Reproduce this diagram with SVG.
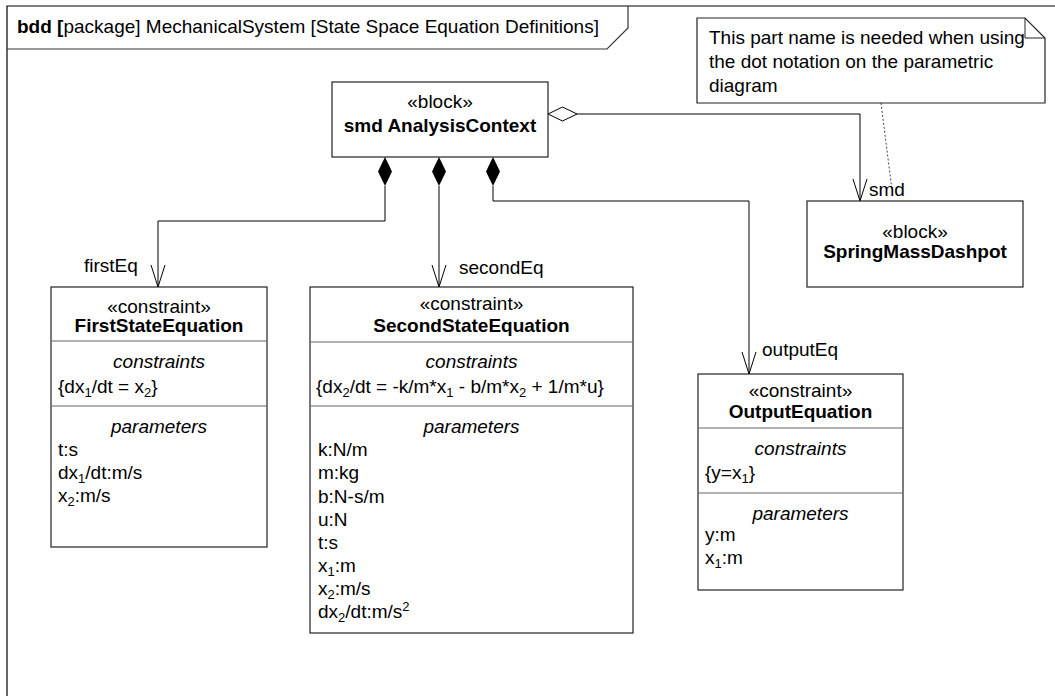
<svg xmlns="http://www.w3.org/2000/svg" width="1055" height="696" viewBox="0 0 1055 696">
  <style>
    text { font-family: "Liberation Sans", Arial, sans-serif; font-size: 19px; fill: #000; }
    .c { text-anchor: middle; }
    .b { font-weight: bold; }
    .i { font-style: italic; }
    .box { fill: #fff; stroke: #222; stroke-width: 1.2; }
    .div { stroke: #666; stroke-width: 1.2; fill: none; }
    .edge { fill: none; stroke: #000; stroke-width: 1; }
    .sub { font-size: 13px; }
  </style>
  <defs>
    <!-- open arrowhead pointing along the path direction -->
    <marker id="open" viewBox="0 0 24 16" markerWidth="24" markerHeight="16" refX="23" refY="8" orient="auto" markerUnits="userSpaceOnUse">
      <path d="M1,1 L23,8 L1,15" fill="none" stroke="#000" stroke-width="1"/>
    </marker>
  </defs>

  <rect width="1055" height="696" fill="#fff"/>

  <!-- diagram frame with its name tab -->
  <g id="frame">
    <path d="M7,700 V6 H1060" fill="none" stroke="#000" stroke-width="1.2"/>
    <path d="M7,49 H607 L628,28 V6" fill="none" stroke="#333" stroke-width="1.2"/>
    <text x="17" y="33"><tspan class="b">bdd [</tspan>package] MechanicalSystem [State Space Equation Definitions]</text>
  </g>

  <!-- connectors -->
  <g id="connectors">
    <!-- composite parts -->
    <path class="edge" d="M385,186 V221 H158 V287" marker-end="url(#open)"/>
    <path class="edge" d="M439,186 V287" marker-end="url(#open)"/>
    <path class="edge" d="M493,186 V201 H749 V374" marker-end="url(#open)"/>
    <path d="M385,157 L392,171.5 L385,186 L378,171.5 Z" fill="#000"/>
    <path d="M439,157 L446,171.5 L439,186 L432,171.5 Z" fill="#000"/>
    <path d="M493,157 L500,171.5 L493,186 L486,171.5 Z" fill="#000"/>
    <!-- shared part -->
    <path class="edge" d="M577,114 H860 V201" marker-end="url(#open)"/>
    <path d="M548,114 L562.5,107 L577,114 L562.5,121 Z" fill="#fff" stroke="#000" stroke-width="1"/>
    <!-- note anchor -->
    <path d="M881,103 L892,190" fill="none" stroke="#444" stroke-width="1" stroke-dasharray="2,2"/>
    <!-- role names -->
    <text x="84" y="272">firstEq</text>
    <text x="459" y="274">secondEq</text>
    <text x="762" y="356">outputEq</text>
    <text x="869" y="196">smd</text>
  </g>

  <g id="note">
    <path class="box" d="M697,18 H1025 L1045,38 V103 H697 Z"/>
    <path d="M1025,18 V38 H1045" fill="none" stroke="#222" stroke-width="1"/>
    <text x="709" y="44">This part name is needed when using</text>
    <text x="709" y="68">the dot notation on the parametric</text>
    <text x="709" y="92">diagram</text>
  </g>

  <g id="AnalysisContext">
    <rect class="box" x="332" y="82" width="216" height="75"/>
    <text class="c" x="440" y="108">«block»</text>
    <text class="c b" x="440" y="132">smd AnalysisContext</text>
  </g>

  <g id="SpringMassDashpot">
    <rect class="box" x="807" y="201" width="216" height="86"/>
    <text class="c" x="915" y="238">«block»</text>
    <text class="c b" x="915" y="258">SpringMassDashpot</text>
  </g>

  <g id="FirstStateEquation">
    <rect class="box" x="51" y="287" width="216" height="260"/>
    <path class="div" d="M51,341 H267 M51,406 H267"/>
    <text class="c" x="159" y="313">«constraint»</text>
    <text class="c b" x="159" y="332">FirstStateEquation</text>
    <text class="c i" x="159" y="368">constraints</text>
    <text x="58" y="393">{dx<tspan class="sub" dy="4">1</tspan><tspan dy="-4">/dt = x</tspan><tspan class="sub" dy="4">2</tspan><tspan dy="-4">}</tspan></text>
    <text class="c i" x="159" y="433">parameters</text>
    <text x="58" y="456">t:s</text>
    <text x="58" y="479">dx<tspan class="sub" dy="4">1</tspan><tspan dy="-4">/dt:m/s</tspan></text>
    <text x="58" y="502">x<tspan class="sub" dy="4">2</tspan><tspan dy="-4">:m/s</tspan></text>
  </g>

  <g id="SecondStateEquation">
    <rect class="box" x="310" y="287" width="323" height="346"/>
    <path class="div" d="M310,342 H633 M310,406 H633"/>
    <text class="c" x="471.5" y="310">«constraint»</text>
    <text class="c b" x="471.5" y="332">SecondStateEquation</text>
    <text class="c i" x="471.5" y="368">constraints</text>
    <text x="316" y="393">{dx<tspan class="sub" dy="4">2</tspan><tspan dy="-4">/dt = -k/m*x</tspan><tspan class="sub" dy="4">1</tspan><tspan dy="-4"> - b/m*x</tspan><tspan class="sub" dy="4">2</tspan><tspan dy="-4"> + 1/m*u}</tspan></text>
    <text class="c i" x="471.5" y="433">parameters</text>
    <text x="318" y="456">k:N/m</text>
    <text x="318" y="479">m:kg</text>
    <text x="318" y="503">b:N-s/m</text>
    <text x="318" y="526">u:N</text>
    <text x="318" y="549">t:s</text>
    <text x="318" y="572">x<tspan class="sub" dy="4">1</tspan><tspan dy="-4">:m</tspan></text>
    <text x="318" y="595">x<tspan class="sub" dy="4">2</tspan><tspan dy="-4">:m/s</tspan></text>
    <text x="318" y="618">dx<tspan class="sub" dy="4">2</tspan><tspan dy="-4">/dt:m/s</tspan><tspan class="sub" dy="-7">2</tspan></text>
  </g>

  <g id="OutputEquation">
    <rect class="box" x="698" y="374" width="205" height="216"/>
    <path class="div" d="M698,428 H903 M698,493 H903"/>
    <text class="c" x="800.5" y="397">«constraint»</text>
    <text class="c b" x="800.5" y="418">OutputEquation</text>
    <text class="c i" x="800.5" y="455">constraints</text>
    <text x="705" y="479">{y=x<tspan class="sub" dy="4">1</tspan><tspan dy="-4">}</tspan></text>
    <text class="c i" x="800.5" y="520">parameters</text>
    <text x="705" y="541">y:m</text>
    <text x="705" y="564">x<tspan class="sub" dy="4">1</tspan><tspan dy="-4">:m</tspan></text>
  </g>
</svg>
